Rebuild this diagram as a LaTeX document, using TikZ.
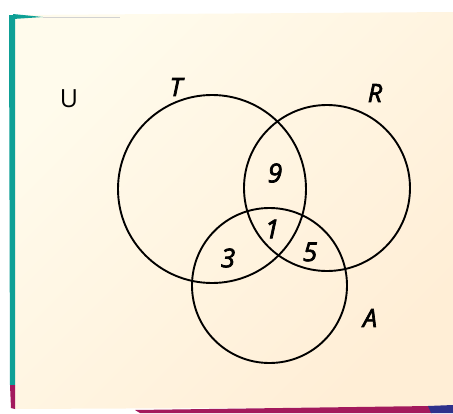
\documentclass[tikz,border=0pt]{standalone}
\usepackage{fontspec}
\setmainfont{Open Sans}
\newcommand\heavytext[1]{\special{pdf:literal direct 2 Tr 0.7 w}#1\special{pdf:literal direct 0 Tr}}
\definecolor{paperA}{RGB}{255,251,236}
\definecolor{paperB}{RGB}{255,238,214}
\definecolor{tealedge}{RGB}{14,160,150}
\definecolor{magedge}{RGB}{163,25,92}
\definecolor{navyedge}{RGB}{46,49,140}
\tikzset{
	set/.style = {draw, circle, line width = 1.9pt, inner sep = 0pt},
	setname/.style = {font = \fontsize{25}{28}\selectfont\itshape},
	count/.style = {font = \fontsize{26}{28}\selectfont\itshape}
}
\begin{document}
\begin{tikzpicture}[x = 1pt, y = -1pt]
	\useasboundingbox (0,0) rectangle (453,413);
	\shade [left color = paperA, right color = paperB, shading angle = 45] (15,15) -- (453,12) -- (453,407) -- (15,409) -- cycle;
	\fill [tealedge] (13,14) -- (43,17) -- (13,19) -- cycle;
	\draw [gray!35, line width = 0.6pt] (43,17.3) -- (120,17.3);
	\fill [tealedge] (9,15) -- (15,15) -- (15,385) -- (10,385) -- cycle;
	\fill [magedge] (10,385) -- (15,385) -- (15,409) -- (11,408) -- cycle;
	\fill [magedge] (135,410) -- (430,406) -- (432,413) -- (140,413) -- cycle;
	\fill [navyedge] (428,406) -- (453,405) -- (453,413) -- (431,413) -- cycle;
	\node [set, minimum size = 188pt] (T) at (212,189) {};
	\node [set, minimum size = 166pt] (R) at (327,188) {};
	\node [set, minimum size = 155pt] (A) at (269.5,285.5) {};
	\node [font = \fontsize{25}{28}\selectfont] (U) at (69,99) {U};
	\node [setname] (Tname) at (176,87) {\heavytext{T}};
	\node [setname] (Rname) at (375,93) {\heavytext{R}};
	\node [setname] (Aname) at (370,318) {\heavytext{A}};
	\node [count] (TR) at (275,173) {\heavytext{9}};
	\node [count] (TRA) at (272,229) {\heavytext{1}};
	\node [count] (TA) at (228,258) {\heavytext{3}};
	\node [count] (RA) at (310,252) {\heavytext{5}};
\end{tikzpicture}
\end{document}
